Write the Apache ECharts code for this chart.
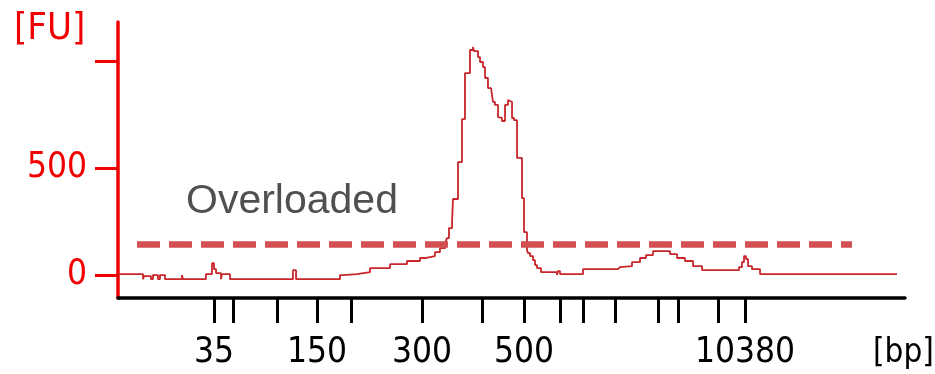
<!DOCTYPE html>
<html>
<head>
<meta charset="utf-8">
<script src="https://cdn.jsdelivr.net/npm/echarts@6/dist/echarts.min.js"></script>
<style>
  html, body { margin: 0; padding: 0; background: #fff; }
  #chart { width: 935px; height: 374px; }
</style>
</head>
<body>
<div id="chart"></div>
<script>
// Electropherogram: fluorescence [FU] against migration time, with the ladder sizes in bp on the x axis.

// Ladder peaks: migration time (s) and fragment size (bp)
const ladderTimes = [50.98, 53.15, 58.18, 62.76, 66.65, 74.76, 81.63, 86.43, 90.55, 93.18, 96.84, 101.75, 104.04, 108.61, 111.70];
const ladderSizes = [35, 50, 100, 150, 200, 300, 400, 500, 600, 700, 1000, 2000, 3000, 7000, 10380];
const labeledSizes = [35, 150, 300, 500, 10380];

// Fluorescence axis ticks
const fuTicks = [0, 500, 1000];
const fuLabels = [0, 500];

// Sample trace, held at each level until the next time point
const traceTime = [
  40.00, 42.86, 42.97, 43.77, 44.00, 44.57, 44.80, 45.37, 47.32, 47.43,
  50.06, 50.75, 50.98, 51.21, 51.78, 51.89, 52.81, 60.01, 60.36, 65.39,
  65.73, 67.33, 68.82, 71.11, 73.05, 74.54, 75.11, 76.25, 76.82, 77.40,
  77.62, 77.85, 78.20, 78.31, 78.88, 79.34, 79.68, 80.25, 80.60, 80.71,
  81.17, 81.40, 81.74, 81.97, 82.31, 82.66, 82.88, 83.11, 83.46, 83.68,
  83.91, 84.26, 84.60, 84.71, 85.06, 85.29, 85.63, 86.20, 86.43, 86.77,
  86.89, 87.12, 87.46, 87.69, 87.92, 88.37, 90.20, 90.32, 90.55, 93.18,
  97.18, 97.41, 98.78, 99.70, 100.38, 101.18, 103.13, 103.93, 104.84, 105.76,
  106.79, 111.02, 111.36, 111.59, 111.82, 112.05, 112.50, 113.42, 129.09
];
const traceFU = [
  5, -19, -5, -19, 0, -19, 0, -19, 0, -19,
  5, 56, 28, 9, -19, 5, -19, 23, -19, 0,
  5, 14, 33, 51, 66, 80, 89, 108, 126, 150,
  173, 220, 248, 356, 529, 730, 945, 1053, 1067, 1048,
  1020, 997, 973, 922, 875, 866, 810, 796, 739, 735,
  721, 796, 819, 810, 735, 725, 548, 360, 201, 117,
  103, 89, 70, 47, 33, 14, 0, 19, 5, 28,
  37, 42, 61, 80, 94, 112, 98, 80, 66, 42,
  23, 37, 61, 89, 75, 42, 28, 5, 5
];

// Overload threshold line
const overloadLevel = 145;
const overloadSpan = [42.17, 123.94];

const sizeByTime = new Map(ladderTimes.map((t, i) => [t, ladderSizes[i]]));
const labeledTimes = ladderTimes.filter((t, i) => labeledSizes.includes(ladderSizes[i]));

const tickFont = '"DejaVu Sans Condensed", "Liberation Sans", sans-serif';

const chart = echarts.init(document.getElementById('chart'), null, { renderer: 'canvas' });
chart.setOption({
  animation: false,
  backgroundColor: '#ffffff',
  grid: { left: 118, right: 30, top: 22, bottom: 76 },
  xAxis: {
    type: 'value',
    min: 40,
    max: 130,
    axisLine: { show: true, onZero: false, lineStyle: { color: '#000000', width: 3.5 } },
    axisTick: { show: true, customValues: ladderTimes, length: 25, lineStyle: { color: '#000000', width: 3 } },
    axisLabel: {
      customValues: labeledTimes,
      formatter: v => String(sizeByTime.get(v)),
      margin: 37,
      fontSize: 35,
      color: '#000000',
      fontFamily: tickFont
    },
    splitLine: { show: false }
  },
  yAxis: {
    type: 'value',
    min: -107,
    max: 1184,
    axisLine: { show: true, onZero: false, lineStyle: { color: '#f00000', width: 3.5 } },
    axisTick: { show: true, customValues: fuTicks, length: 23, lineStyle: { color: '#f00000', width: 3 } },
    axisLabel: {
      customValues: fuLabels,
      margin: 31,
      fontSize: 35,
      color: '#f00000',
      fontFamily: tickFont
    },
    splitLine: { show: false }
  },
  series: [{
    type: 'line',
    step: 'end',
    symbol: 'none',
    data: traceTime.map((t, i) => [t, traceFU[i]]),
    lineStyle: { color: '#c8262a', width: 1.8 },
    markLine: {
      silent: true,
      symbol: ['none', 'none'],
      label: { show: false },
      lineStyle: { color: '#d14f50', width: 6.5, type: [23, 9] },
      data: [[
        { coord: [overloadSpan[0], overloadLevel] },
        { coord: [overloadSpan[1], overloadLevel] }
      ]]
    }
  }],
  graphic: [
    {
      type: 'text', left: 14, top: 10, z: 10,
      style: { text: '[FU]', fill: '#f00000', font: '38px ' + tickFont }
    },
    {
      type: 'text', left: 873, top: 337, z: 10,
      style: { text: '[bp]', fill: '#000000', font: '33px ' + tickFont }
    },
    {
      type: 'text', left: 186, top: 181, z: 10,
      style: { text: 'Overloaded', fill: '#505050', font: '41px "Liberation Sans", Arial, sans-serif' }
    }
  ]
});
</script>
</body>
</html>
